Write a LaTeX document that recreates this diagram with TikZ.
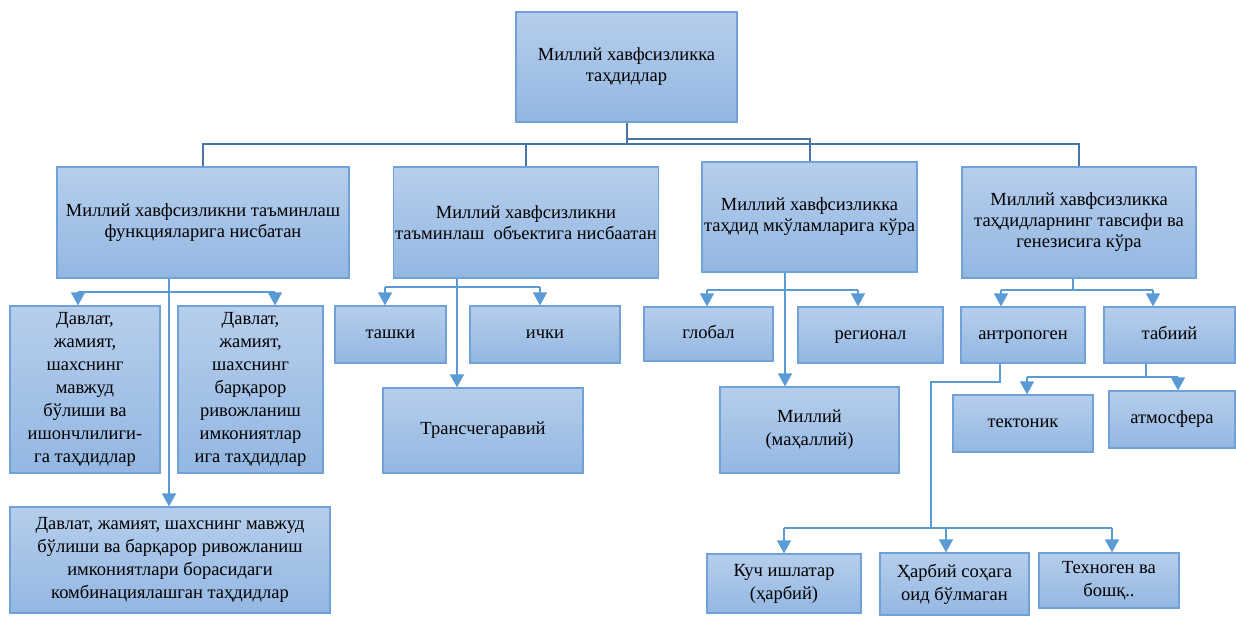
\documentclass[tikz,border=0pt]{standalone}
\usepackage{fontspec}
\setmainfont{Liberation Serif}
\usetikzlibrary{arrows.meta}
\definecolor{boxtop}{RGB}{182,206,236}
\definecolor{boxbot}{RGB}{147,183,226}
\definecolor{boxline}{RGB}{112,161,216}
\definecolor{lineblue}{RGB}{91,155,213}
\definecolor{darkblue}{RGB}{70,118,168}
\tikzset{
  box/.style={draw=boxline, line width=1.2pt, top color=boxtop, bottom color=boxbot,
    align=center, inner sep=2pt, font=\fontsize{18.5}{23}\selectfont},
  one/.style={box, text height=12.5pt, text depth=4pt},
  tbox/.style={box, font=\fontsize{18.5}{21}\selectfont},
  conn/.style={draw=lineblue, line width=1.3pt},
  arr/.style={conn, -{Triangle[width=14pt,length=13pt]}},
  topconn/.style={draw=darkblue, line width=2pt},
}
\begin{document}
\begin{tikzpicture}[x=1pt,y=-1pt]
\useasboundingbox (0,0) rectangle (1236,616);
% boxes
\node[tbox, minimum width=221pt, minimum height=110pt] (top) at (626.5,67) {Миллий хавфсизликка\\таҳдидлар};
\node[tbox, minimum width=292pt, minimum height=111pt] (b1) at (203,222.5) {Миллий хавфсизликни таъминлаш\\функцияларига нисбатан};
\node[tbox, minimum width=264pt, minimum height=111pt] (b2) at (526,222.5) {Миллий хавфсизликни\\таъминлаш\ \ объектига нисбаатан};
\node[tbox, minimum width=213pt, minimum height=110pt] (b3) at (809.5,217) {Миллий хавфсизликка\\таҳдид мкўламларига кўра};
\node[tbox, minimum width=234pt, minimum height=111pt] (b4) at (1079,222.5) {Миллий хавфсизликка\\таҳдидларнинг тавсифи ва\\генезисига кўра};
\node[box, minimum width=150pt, minimum height=167pt] (A) at (85,389.5) {Давлат,\\жамият,\\шахснинг\\мавжуд\\бўлиши ва\\ишончлилиги-\\га таҳдидлар};
\node[box, minimum width=145pt, minimum height=167pt] (B) at (250.5,389.5) {Давлат,\\жамият,\\шахснинг\\барқарор\\ривожланиш\\имкониятлар\\ига таҳдидлар};
\node[box, minimum width=320pt, minimum height=106pt] (C) at (170,560) {Давлат, жамият, шахснинг мавжуд\\бўлиши ва барқарор ривожланиш\\имкониятлари борасидаги\\комбинациялашган таҳдидлар};
\node[one, minimum width=111pt, minimum height=57pt] (tash) at (390.5,334.5) {ташки};
\node[one, minimum width=150pt, minimum height=57pt] (ich) at (545,334.5) {ички};
\node[one, minimum width=200pt, minimum height=85pt] (tr) at (483,430.5) {Трансчегаравий};
\node[one, minimum width=129pt, minimum height=54pt] (glob) at (708.5,334) {глобал};
\node[one, minimum width=145pt, minimum height=56pt] (reg) at (870.5,335) {регионал};
\node[box, minimum width=179pt, minimum height=86pt] (mil) at (809.5,430) {Миллий\\(маҳаллий)};
\node[one, minimum width=124pt, minimum height=56pt] (ant) at (1023,335) {антропоген};
\node[one, minimum width=131pt, minimum height=56pt] (tab) at (1169.5,335) {табиий};
\node[one, minimum width=140pt, minimum height=57pt] (tek) at (1023,423.5) {тектоник};
\node[one, minimum width=126pt, minimum height=57pt] (atm) at (1172,419.5) {атмосфера};
\node[box, minimum width=154pt, minimum height=59pt] (kuch) at (784,583.5) {Куч ишлатар\\(ҳарбий)};
\node[box, minimum width=149pt, minimum height=62pt] (harb) at (954.5,584) {Ҳарбий соҳага\\оид бўлмаган};
\node[box, minimum width=140pt, minimum height=55pt] (tex) at (1109,580.5) {Техноген ва\\бошқ..};
% helper coordinates
\coordinate (h0) at (0,144);
\coordinate (h0b) at (0,139);
\coordinate (h1) at (0,292);
\coordinate (h2) at (0,287);
\coordinate (h3) at (0,290);
\coordinate (h4) at (0,290);
\coordinate (h5) at (0,377);
\coordinate (h6a) at (0,382);
\coordinate (h6) at (0,528);
\coordinate (s1) at (169,0);
\coordinate (xA) at (78,0);
\coordinate (xB) at (275,0);
\coordinate (s2) at (457,0);
\coordinate (xT) at (385,0);
\coordinate (xI) at (540,0);
\coordinate (s3) at (785,0);
\coordinate (xG) at (707,0);
\coordinate (xR) at (858,0);
\coordinate (s4) at (1073,0);
\coordinate (xAn) at (1001,0);
\coordinate (xTa) at (1153,0);
\coordinate (s5) at (1146,0);
\coordinate (xTe) at (1027,0);
\coordinate (xAt) at (1178,0);
\coordinate (s6) at (1000,0);
\coordinate (s6b) at (931,0);
\coordinate (xK) at (784,0);
\coordinate (xH) at (946,0);
\coordinate (xX) at (1112,0);
% top level connectors
\draw[topconn] (top.south) -- (top.south |- h0);
\draw[topconn] (b1.north) -- (b1.north |- h0) -- (b4.north |- h0) -- (b4.north);
\draw[topconn] (b2.north) -- (b2.north |- h0);
\draw[topconn] (top.south |- h0b) -- (b3.north |- h0b) -- (b3.north);
% b1 children
\draw[arr] (s1 |- b1.south) -- (s1 |- C.north);
\draw[conn] (xA |- h1) -- (xB |- h1);
\draw[arr] (xA |- h1) -- (xA |- A.north);
\draw[arr] (xB |- h1) -- (xB |- B.north);
% b2 children
\draw[arr] (s2 |- b2.south) -- (s2 |- tr.north);
\draw[conn] (xT |- h2) -- (xI |- h2);
\draw[arr] (xT |- h2) -- (xT |- tash.north);
\draw[arr] (xI |- h2) -- (xI |- ich.north);
% b3 children
\draw[arr] (s3 |- b3.south) -- (s3 |- mil.north);
\draw[conn] (xG |- h3) -- (xR |- h3);
\draw[arr] (xG |- h3) -- (xG |- glob.north);
\draw[arr] (xR |- h3) -- (xR |- reg.north);
% b4 children
\draw[conn] (s4 |- b4.south) -- (s4 |- h4);
\draw[conn] (xAn |- h4) -- (xTa |- h4);
\draw[arr] (xAn |- h4) -- (xAn |- ant.north);
\draw[arr] (xTa |- h4) -- (xTa |- tab.north);
% tabiiy children
\draw[conn] (s5 |- tab.south) -- (s5 |- h5);
\draw[conn] (xTe |- h5) -- (xAt |- h5);
\draw[arr] (xTe |- h5) -- (xTe |- tek.north);
\draw[arr] (xAt |- h5) -- (xAt |- atm.north);
% antropogen children
\draw[conn] (s6 |- ant.south) -- (s6 |- h6a) -- (s6b |- h6a) -- (s6b |- h6);
\draw[conn] (xK |- h6) -- (xX |- h6);
\draw[arr] (xK |- h6) -- (xK |- kuch.north);
\draw[arr] (xH |- h6) -- (xH |- harb.north);
\draw[arr] (xX |- h6) -- (xX |- tex.north);
\end{tikzpicture}
\end{document}
